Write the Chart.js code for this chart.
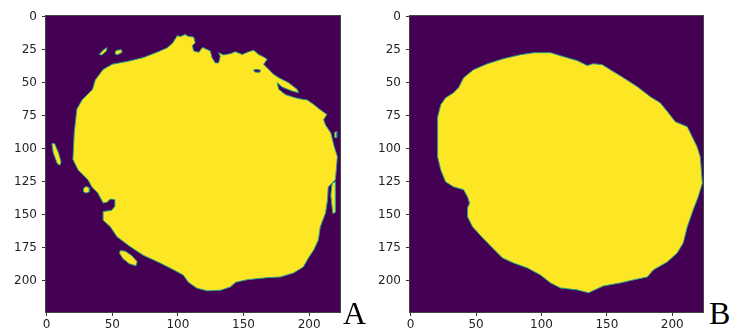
<!DOCTYPE html>
<html>
<head>
<meta charset="utf-8">
<script src="https://cdn.jsdelivr.net/npm/chart.js@4"></script>
<style>
  body { margin: 0; background: #fff; width: 731px; height: 332px; position: relative; overflow: hidden; }
  .panel { position: absolute; top: 0; }
  .tag { position: absolute; font-family: "Liberation Serif", serif; font-size: 32px; line-height: 1; color: #000; }
</style>
</head>
<body>
<canvas id="maskA" class="panel" width="345" height="332" style="left:0px"></canvas>
<canvas id="maskB" class="panel" width="345" height="332" style="left:364px"></canvas>
<div class="tag" style="left:343px; top:297px">A</div>
<div class="tag" style="left:709px; top:297px">B</div>
<script>
// image is 224 x 224 pixels
const xTicks = [0, 50, 100, 150, 200];
const yTicks = [0, 25, 50, 75, 100, 125, 150, 175, 200];

// outlines in pixel coordinates [col, row]
const bodyA = [
  [20,108],[21,88],[23,70],[27,63],[35,55],[37,48],[43,40],[50,36],[61,34],[73.5,31],
  [84,27],[92,23.5],[96,20],[99.5,14.5],[102,15],[105.5,13.5],[108,15],[112,15.4],
  [113.2,19.7],[111,22],[112,26],[116,27],[118.5,23.5],[119.3,23.5],[124.7,26],[126,31],
  [128.5,35],[131,35],[132.3,30],[131,27.3],[134.8,29],[140,28],[143.7,26.5],[149,28.6],
  [154,26.5],[157.7,25.5],[161.5,28.6],[165.3,30.5],[168,32.3],[165.3,36],[169.2,40],
  [173,43.7],[176.8,46.2],[184.4,50],[190.8,55],[192,57.6],[187,56.3],[179.4,53.3],
  [175.6,50],[176.8,55],[182,59],[189.5,61.4],[195.6,62.7],[198.5,63],[203.5,66.5],
  [208.5,70.5],[213.5,74],[211,78],[212.5,82],[216.5,88],[219,98],[221.5,106],
  [220,123.5],[214.5,129],[214,138.5],[212.5,148.5],[208.5,159],[207,169],[203.5,176.5],
  [199.5,182.5],[195.5,189.5],[188,194],[178,197],[168,197.5],[153,199],[144,201],
  [140,204.5],[132.5,207],[122.5,207.5],[114.5,205.5],[108,201],[104,195.5],[96.5,191.5],
  [86.5,186.5],[73.5,180.5],[63.5,174],[53.5,166.5],[48.5,159],[43,154],[43,147.5],
  [49.5,146.5],[52,143.5],[52,138.5],[48.5,138],[46,140.5],[43,141],[39,133.5],
  [34.5,129],[31.5,123.5],[24,116]
];
const specksA = [
  [[40,28.5],[44,24.5],[46,23.5],[45.5,26],[42,29]],
  [[52,28],[53,25.5],[57,25],[57.5,27],[54,28.8]],
  [[4,96],[6,96],[9,103],[11,110],[10,112.5],[8,111],[5,103]],
  [[28,130],[30,128.5],[32.5,129.5],[32.5,132.5],[30,133.5],[28,132.5]],
  [[56,177],[60,177.5],[65,181],[69,185.5],[68,188.5],[63,187],[58,183],[55.5,179]],
  [[219.5,87.5],[221,87],[221,91.5],[219.5,91.5]],
  [[217.5,126],[220,125],[220,148],[218,149],[216.5,135]]
];
const holesA = [
  [[157.5,40.5],[160,39.8],[163,40.5],[162.5,42],[159,42]]
];
const bodyB = [
  [20.6,106],[20.6,76],[23,66.7],[26.7,61.4],[32.8,57.6],[36.6,53.8],[40.5,46.2],[48,40.2],
  [58.8,35.6],[71,31.8],[84,28.8],[94,27.3],[107,27.3],[117,30.3],[127.5,33.3],[135,37],
  [139.7,35.6],[146.6,36.4],[152.7,40.2],[162.6,46.2],[173.3,53],[183.2,60.6],[190.8,65.2],
  [197,72.7],[202.3,79.5],[211.5,83.3],[215.3,91],[219,98.5],[221.4,106],[223,126],
  [219.8,136.4],[216,146.2],[211.5,159],[208.4,171.2],[203.8,178.8],[196.2,185.6],
  [185.5,191.7],[181,197],[170.2,199.2],[160.3,201.5],[147.3,203.8],[136,209],
  [127.5,206.8],[114.5,205.3],[107,201.5],[99.2,195.5],[89.3,190.2],[78.6,186.4],
  [70.2,182.6],[62.6,175],[55,167.4],[47.3,159],[43.5,151.5],[43.5,144.7],[45,141],
  [43.5,136.4],[40.5,131],[32.8,128.8],[26.7,125],[23,116]
];

const PURPLE = '#440154';
const YELLOW = '#fde725';
const EDGE = '#27a08a';

function shape(points, color, order) {
  const data = points.map(([x, y]) => ({x, y}));
  data.push({x: points[0][0], y: points[0][1]});
  return {
    data, order,
    fill: 'shape',
    backgroundColor: color,
    borderColor: EDGE,
    borderWidth: 1,
    pointRadius: 0,
    tension: 0
  };
}

function axis(ticks, isY) {
  return {
    type: 'linear',
    min: -0.5,
    max: 223.5,
    reverse: isY,
    afterBuildTicks: s => { s.ticks = ticks.map(v => ({value: v})); },
    afterFit: s => { if (isY) s.width = 46; else s.height = 20; },
    grid: { drawOnChartArea: false, drawTicks: true, tickLength: 4, color: '#333' },
    border: { display: false },
    ticks: {
      padding: isY ? 5 : 2,
      color: '#222',
      autoSkip: false,
      maxRotation: 0,
      font: { family: 'DejaVu Sans', size: 12 }
    }
  };
}

// dark background of the image plus the box around it
const frame = {
  id: 'frame',
  beforeDatasetsDraw(chart) {
    const {ctx, chartArea: a} = chart;
    ctx.save();
    ctx.fillStyle = PURPLE;
    ctx.fillRect(a.left, a.top, a.right - a.left, a.bottom - a.top);
    ctx.restore();
  },
  afterDraw(chart) {
    const {ctx, chartArea: a} = chart;
    ctx.save();
    ctx.strokeStyle = '#444';
    ctx.lineWidth = 1;
    ctx.strokeRect(Math.round(a.left) - 0.5, Math.round(a.top) - 0.5,
      Math.round(a.right - a.left) + 1, Math.round(a.bottom - a.top) + 1);
    ctx.restore();
  }
};

function drawMask(id, datasets, padRight) {
  new Chart(document.getElementById(id), {
    type: 'line',
    data: { datasets },
    options: {
      responsive: false,
      animation: false,
      layout: { padding: { top: 16, right: padRight, left: 0, bottom: 0 } },
      plugins: { legend: { display: false }, tooltip: { enabled: false } },
      scales: { x: axis(xTicks, false), y: axis(yTicks, true) }
    },
    plugins: [frame]
  });
}

drawMask('maskA', [
  shape(bodyA, YELLOW, 3),
  ...specksA.map(p => shape(p, YELLOW, 2)),
  ...holesA.map(p => shape(p, PURPLE, 1))
], 5);

drawMask('maskB', [shape(bodyB, YELLOW, 3)], 6);
</script>
</body>
</html>
